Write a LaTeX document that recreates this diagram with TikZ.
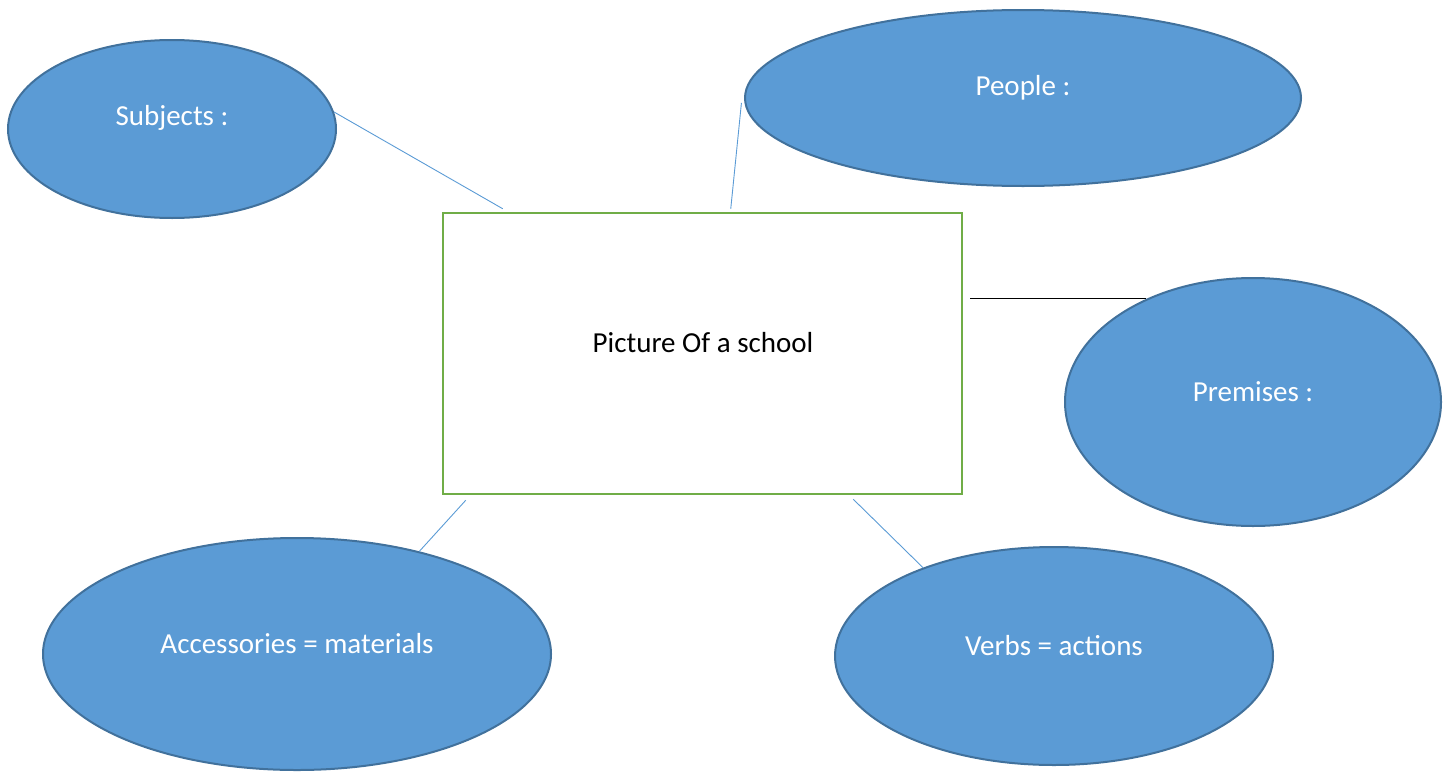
\documentclass[tikz,border=0pt]{standalone}
\usepackage{fontspec}
\usetikzlibrary{shapes.geometric}
\setmainfont{Carlito}
\definecolor{bubble}{HTML}{5B9BD5}
\definecolor{bubbleline}{HTML}{41719C}
\definecolor{boxline}{HTML}{70AD47}
\begin{document}
\begin{tikzpicture}[x=1pt,y=-1pt,
    bub/.style={ellipse,draw=bubbleline,line width=2pt,fill=bubble,inner sep=0pt},
    txt/.style={font=\fontsize{29}{34}\selectfont},
    link/.style={bubble,line width=0.9pt}]
\useasboundingbox (0,0) rectangle (1447,771);
\node[draw=boxline,line width=2.5pt,minimum width=519pt,minimum height=281pt,inner sep=0pt] (box) at (702.5,353.5) {};
\node[txt] at (703,343) {Picture Of a school};
\node[bub,minimum width=328pt,minimum height=178pt] (subj) at (172,129) {};
\node[txt,white] at (172,118) {Subjects :};
\node[bub,minimum width=556pt,minimum height=176pt] (people) at (1023,98) {};
\node[txt,white] at (1023,88) {People :};
\node[bub,minimum width=376pt,minimum height=248pt] (prem) at (1253,402) {};
\node[txt,white] at (1253,392) {Premises :};
\node[bub,minimum width=508pt,minimum height=232pt] (acc) at (297,654) {};
\node[txt,white] at (297,644) {Accessories = materials};
\node[bub,minimum width=438pt,minimum height=218pt] (verbs) at (1054,656) {};
\node[txt,white] at (1054,646) {Verbs = actions};
\draw[link] (subj.6) -- ([xshift=61pt,yshift=3pt]box.north west);
\draw[link] ([xshift=-3pt]people.181) -- ([xshift=289pt,yshift=3pt]box.north west);
\draw[line width=1.2pt,shorten <=7pt] (box.east |- prem.136) -- (prem.136);
\draw[link] ([xshift=24pt,yshift=-5pt]box.south west) -- (acc.40);
\draw[link] ([xshift=-110pt,yshift=-4pt]box.south east) -- (verbs.146);
\end{tikzpicture}
\end{document}
